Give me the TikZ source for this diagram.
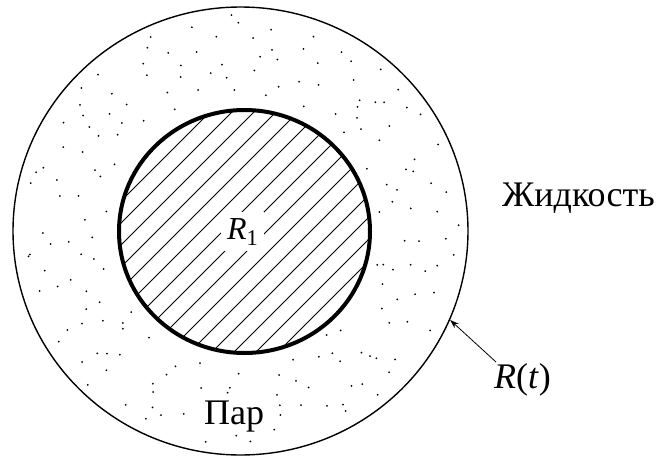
\documentclass[tikz,border=0pt]{standalone}
\usepackage{fontspec}
\newfontfamily\serifcyr{LiberationSerif-Regular.ttf}[ItalicFont=LiberationSerif-Italic.ttf]
\usetikzlibrary{shapes.geometric,arrows.meta}
\begin{document}
\begin{tikzpicture}[x=1pt,y=-1pt,
  lbl/.style={font=\serifcyr\fontsize{36}{42}\selectfont, inner sep=0pt},
  hatch/.style={line width=0.8pt},
  stip/.style={fill=black}]
\useasboundingbox (0,0) rectangle (667,458);
\fill[white] (0,0) rectangle (667,458);
% stipple dots in the vapour layer
\pgfmathsetseed{4217}
\foreach \i in {1,...,185}{
  \pgfmathsetmacro{\fr}{\i*0.381966-floor(\i*0.381966)}
  \pgfmathsetmacro{\ang}{360*\fr+rnd*14-7}
  \pgfmathsetmacro{\rr}{sqrt(0.36+0.57*(\i-0.5)/185)+rnd*0.03-0.015}
  \fill[stip] ({240.5+227*\rr*cos(\ang)},{231+223*\rr*sin(\ang)}) circle[radius=1];
}
% outer boundary R(t)
\node[ellipse, draw, line width=1.4pt, minimum width=455pt, minimum height=448pt, inner sep=0pt] (outer) at (240.5,231) {};
% hatched core
\begin{scope}
  \clip (244.5,231.5) ellipse [x radius=125.5, y radius=121.5];
  \foreach \k in {-9,...,9}
    \draw[hatch] ({244.5+22*\k-200},{231.5+200}) -- ({244.5+22*\k+200},{231.5-200});
\end{scope}
\node[lbl, font=\serifcyr\fontsize{32}{38}\selectfont, fill=white, inner sep=6pt, anchor=base west] (r1) at (221,239) {\textit{R}\textsubscript{1}};
\node[ellipse, draw, line width=4pt, minimum width=251pt, minimum height=243pt, inner sep=0pt] (inner) at (244.5,231.5) {};
% labels
\node[lbl, anchor=base west] (liq) at (502,206) {Жидкость};
\node[lbl, fill=white, inner sep=2pt, anchor=base west] (vap) at (202,424) {Пар};
\node[lbl, anchor=base west] (rt) at (494,388) {\textit{R}(\textit{t})};
\coordinate (a1) at (496,362);
\draw[-{Stealth[length=9pt,width=6pt]}, line width=0.8pt] (a1) -- (outer.-23);
\end{tikzpicture}
\end{document}
